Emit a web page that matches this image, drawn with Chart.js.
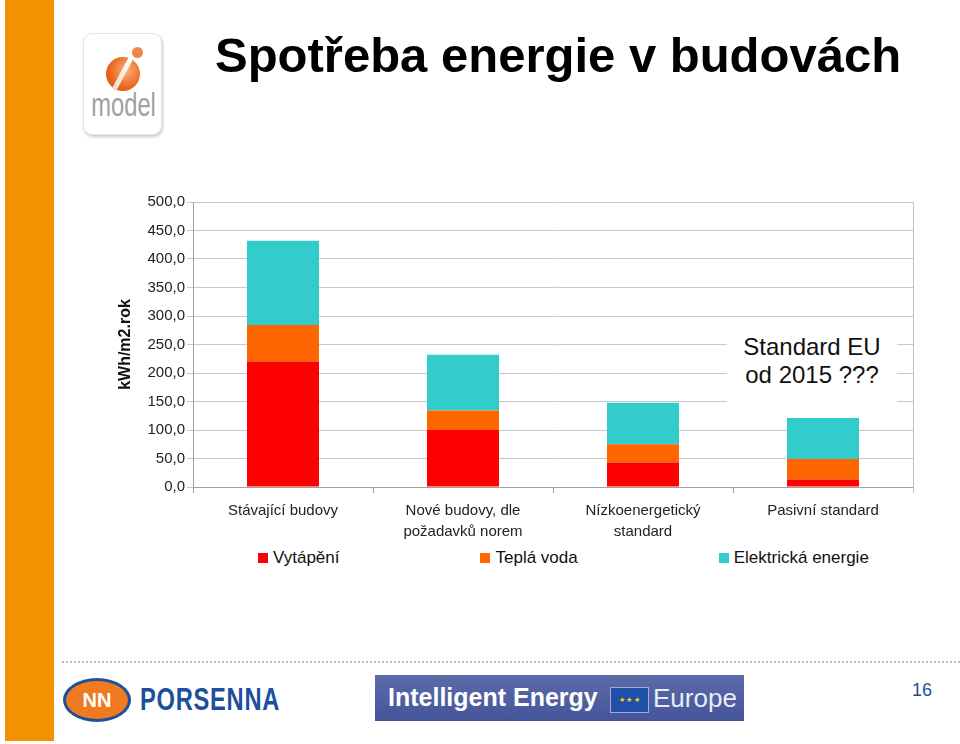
<!DOCTYPE html>
<html>
<head>
<meta charset="utf-8">
<script src="https://cdn.jsdelivr.net/npm/chart.js@4/dist/chart.umd.min.js"></script>
<style>
  body { margin: 0; width: 960px; height: 744px; background: #fff; position: relative; overflow: hidden; font-family: "Liberation Sans", Arial, sans-serif; }
  .strip { position: absolute; left: 5px; top: 0; width: 49px; height: 741px; background: #f39200; }
  .logo { position: absolute; left: 83px; top: 33px; width: 77px; height: 100px; border: 1px solid #e4e4e4; border-radius: 9px; box-shadow: 1px 2px 3px #ccc; background: #fff; }
  .logo .ball { position: absolute; left: 22px; top: 23px; width: 34px; height: 34px; border-radius: 50%; background: radial-gradient(circle at 60% 40%, #fbb07a, #e8641e 60%, #c9501a); }
  .logo .needle { position: absolute; left: 36px; top: 22px; width: 5px; height: 36px; background: linear-gradient(#fff, #f3d9c6); transform: rotate(28deg); border-radius: 3px; }
  .logo .dot { position: absolute; left: 48px; top: 13px; width: 11px; height: 11px; border-radius: 50%; background: #eb8a4a; }
  .logo .txt { position: absolute; left: -5px; top: 52px; width: 87px; text-align: center; color: #a0a0a0; font-size: 33px; transform: scaleX(0.72); }
  h1 { position: absolute; left: 215px; top: 27px; margin: 0; font-size: 49px; line-height: 56px; font-weight: bold; color: #000; white-space: nowrap; }
  #wrap { position: absolute; left: 100px; top: 186px; width: 830px; height: 360px; }
  .note { position: absolute; left: 727px; top: 330px; width: 170px; height: 74px; background: #fff; text-align: center; font-size: 24px; line-height: 28px; color: #111; padding-top: 3px; box-sizing: border-box; }
  #legend { position: absolute; left: 258px; top: 548px; display: flex; gap: 141px; font-size: 17px; color: #111; }
  #legend span.box { display: inline-block; width: 10px; height: 10px; margin-right: 5px; vertical-align: 0px; }
  .dots { position: absolute; left: 62px; top: 661px; width: 898px; border-top: 2px dotted #bbb; }
  .porsenna { position: absolute; left: 63px; top: 678px; width: 62px; height: 38px; border-radius: 50%; background: #ef7a1f; border: 3px solid #1c4f9c; color: #fff; font-weight: bold; font-size: 20px; text-align: center; line-height: 38px; }
  .porsenna-txt { position: absolute; left: 140px; top: 681px; font-size: 32px; font-weight: bold; color: #1c4f9c; transform: scaleX(0.74); transform-origin: left top; letter-spacing: 1px; }
  .iee { position: absolute; left: 375px; top: 675px; width: 369px; height: 46px; background: linear-gradient(180deg, #5b6aa8, #46559a); color: #fff; }
  .iee .a { position: absolute; left: 13px; top: 8px; font-size: 25px; font-weight: bold; }
  .iee .flag { position: absolute; left: 235px; top: 12px; width: 37px; height: 24px; background: #1f4fa8; border: 1px solid #aac; color: #ffdd00; font-size: 7px; text-align: center; line-height: 24px; }
  .iee .b { position: absolute; left: 278px; top: 8px; font-size: 26px; color: #e8ecf8; font-weight: 300; }
  .page { position: absolute; left: 912px; top: 680px; font-size: 18px; color: #1f4e99; }
</style>
</head>
<body>
<div class="strip"></div>
<div class="logo"><div class="ball"></div><div class="needle"></div><div class="dot"></div><div class="txt">model</div></div>
<h1>Spotřeba energie v budovách</h1>

<div id="wrap"><canvas id="chart"></canvas></div>
<div class="note">Standard EU<br>od 2015 ???</div>
<div id="legend"></div>

<div class="dots"></div>
<div class="porsenna">NN</div>
<div class="porsenna-txt">PORSENNA</div>
<div class="iee"><div class="a">Intelligent Energy</div><div class="flag">★ ★ ★</div><div class="b">Europe</div></div>
<div class="page">16</div>

<script>
// kategorie budov
const categories = [
    ["Stávající budovy"],
    ["Nové budovy, dle", "požadavků norem"],
    ["Nízkoenergetický", "standard"],
    ["Pasivní standard"]
];

// kWh/m2.rok
const vytapeni = [220, 100, 43, 13];
const teplaVoda = [64, 34, 32, 36];
const elektricka = [148, 98, 73, 72];

const seriesNames = ["Vytápění", "Teplá voda", "Elektrická energie"];
const seriesColors = ["#ff0000", "#ff6600", "#33cccc"];

const yMin = 0, yMax = 500, yStep = 50;

// right border of the plot area
const plotBorder = {
    id: 'plotBorder',
    afterDraw(chart) {
        const ctx = chart.ctx;
        const a = chart.chartArea;
        ctx.save();
        ctx.strokeStyle = "#c0c0c0";
        ctx.lineWidth = 1;
        ctx.beginPath();
        ctx.moveTo(Math.round(a.right) + 0.5, a.top);
        ctx.lineTo(Math.round(a.right) + 0.5, a.bottom + 6);
        ctx.stroke();
        ctx.restore();
    }
};

const ctx = document.getElementById("chart").getContext("2d");

new Chart(ctx, {
    type: "bar",
    data: {
        labels: categories,
        datasets: [vytapeni, teplaVoda, elektricka].map((d, i) => ({
            label: seriesNames[i],
            data: d,
            backgroundColor: seriesColors[i],
            borderWidth: 0,
            barPercentage: 0.4,
            categoryPercentage: 1.0
        }))
    },
    options: {
        responsive: true,
        maintainAspectRatio: false,
        animation: false,
        layout: { padding: { top: 16, right: 17, left: 0, bottom: 0 } },
        plugins: { legend: { display: false }, tooltip: { enabled: false } },
        scales: {
            x: {
                stacked: true,
                offset: true,
                border: { color: "#a0a0a0" },
                grid: { offset: true, drawOnChartArea: false, tickLength: 6, color: "#a0a0a0" },
                ticks: {
                    color: "#222",
                    padding: 8,
                    maxRotation: 0,
                    autoSkip: false,
                    font: { family: "'Liberation Sans', Arial", size: 15, lineHeight: 1.35 }
                },
                afterFit(scale) { scale.height = 59; }
            },
            y: {
                stacked: true,
                min: yMin,
                max: yMax,
                border: { color: "#a0a0a0" },
                grid: { color: "#c8c8c8", tickLength: 6 },
                ticks: {
                    stepSize: yStep,
                    color: "#222",
                    padding: 2,
                    font: { family: "'Liberation Sans', Arial", size: 15 },
                    callback: v => v.toFixed(1).replace(".", ",")
                },
                title: {
                    display: true,
                    text: "kWh/m2.rok",
                    color: "#111",
                    padding: { top: 16, bottom: 0 },
                    font: { family: "'Liberation Sans', Arial", size: 16, weight: "bold" }
                },
                afterFit(scale) { scale.width = 93; }
            }
        }
    },
    plugins: [plotBorder]
});

// legend row under the chart
const legendEl = document.getElementById("legend");
seriesNames.forEach((name, i) => {
    const item = document.createElement("div");
    item.innerHTML = `<span class="box" style="background:${seriesColors[i]}"></span>${name}`;
    legendEl.appendChild(item);
});
</script>
</body>
</html>
